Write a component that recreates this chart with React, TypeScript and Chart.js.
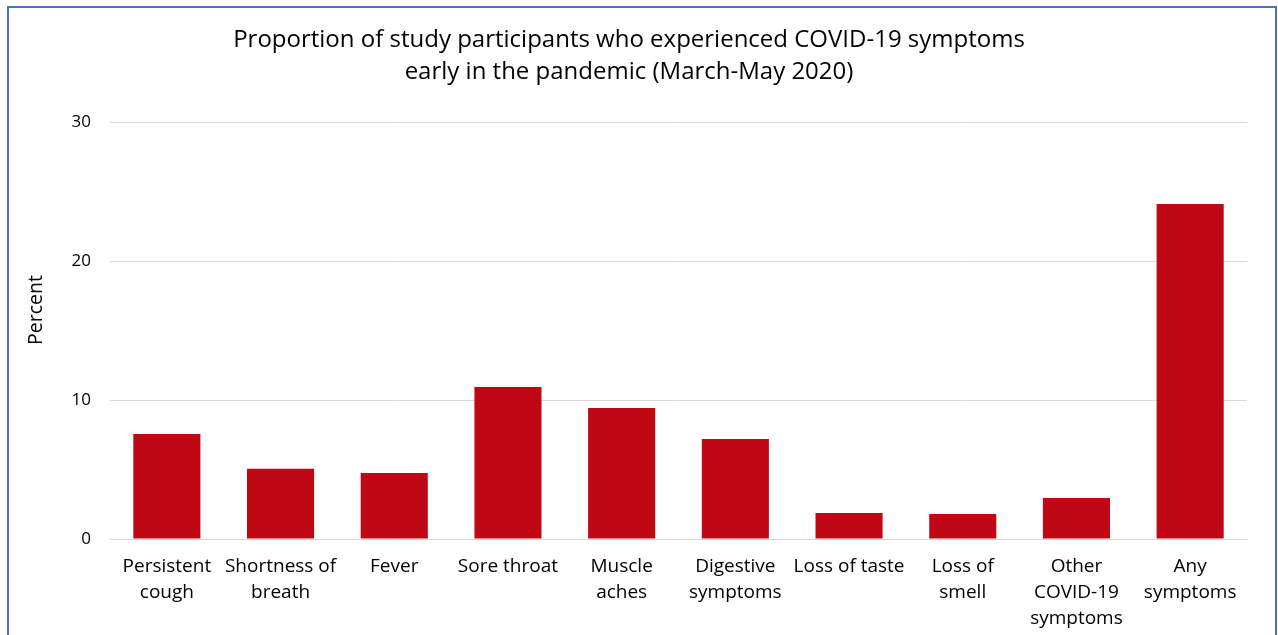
import React, { useEffect, useRef } from "react";
import { Chart, registerables } from "chart.js";

Chart.register(...registerables);

const categories: string[][] = [
  ["Persistent", "cough"],
  ["Shortness of", "breath"],
  ["Fever"],
  ["Sore throat"],
  ["Muscle", "aches"],
  ["Digestive", "symptoms"],
  ["Loss of taste"],
  ["Loss of", "smell"],
  ["Other", "COVID-19", "symptoms"],
  ["Any", "symptoms"],
];
const percentValues: number[] = [7.55, 5.05, 4.75, 10.93, 9.42, 7.2, 1.87, 1.8, 2.95, 24.1];
const yTicks: number[] = [0, 10, 20, 30];
const titleLines: string[] = [
  "Proportion of study participants who experienced COVID-19 symptoms",
  "early in the pandemic (March-May 2020)",
];
const yAxisTitle = "Percent";

const FONT = "'Open Sans', Lato, sans-serif";

const textPlugin = {
  id: "customText",
  afterDraw(chart: any) {
    const ctx = chart.ctx as CanvasRenderingContext2D;
    ctx.save();
    ctx.fillStyle = "#000";
    ctx.textAlign = "center";
    ctx.textBaseline = "middle";
    ctx.font = `24px ${FONT}`;
    const cx = chart.width / 2 - 10;
    titleLines.forEach((line, i) => ctx.fillText(line, cx, 40 + i * 32));
    ctx.translate(36, 310);
    ctx.rotate(-Math.PI / 2);
    ctx.font = `19.5px ${FONT}`;
    ctx.fillText(yAxisTitle, 0, 0);
    ctx.restore();
  },
};

export default function App() {
  const ref = useRef<HTMLCanvasElement | null>(null);

  useEffect(() => {
    document.body.style.margin = "0";
    document.body.style.overflow = "hidden";
    if (!ref.current) return;
    const chart = new Chart(ref.current, {
      type: "bar",
      data: {
        labels: categories,
        datasets: [
          {
            data: percentValues,
            backgroundColor: "#C00714",
            borderWidth: 0,
            barPercentage: 0.59,
            categoryPercentage: 1,
          },
        ],
      },
      plugins: [textPlugin],
      options: {
        animation: false,
        responsive: true,
        maintainAspectRatio: false,
        layout: { padding: { left: 0, right: 31, top: 122, bottom: 0 } },
        plugins: {
          legend: { display: false },
          tooltip: { enabled: false },
          title: { display: false },
        },
        scales: {
          x: {
            grid: { display: false, drawTicks: false },
            border: { display: false },
            ticks: {
              color: "#000",
              font: { family: FONT, size: 19, lineHeight: 1.37 },
              padding: 15,
              maxRotation: 0,
              autoSkip: false,
            },
            afterFit: (scale: any) => {
              scale.height = 96;
            },
          },
          y: {
            min: 0,
            max: 30,
            afterBuildTicks: (scale: any) => {
              scale.ticks = yTicks.map((v) => ({ value: v }));
            },
            grid: { color: "#d9d9d9", lineWidth: 1, drawTicks: false },
            border: { display: false },
            ticks: {
              color: "#000",
              font: { family: FONT, size: 17 },
              padding: 19,
            },
            afterFit: (scale: any) => {
              scale.width = 110;
            },
          },
        },
      },
    });
    return () => chart.destroy();
  }, []);

  return (
    <div style={{ position: "absolute", left: 0, top: 0, width: 1278, height: 635, overflow: "hidden", background: "#fff" }}>
      <div
        style={{
          position: "absolute",
          left: 7,
          top: 6,
          width: 1266,
          height: 700,
          borderTop: "2px solid #4472C4",
          borderLeft: "2px solid #4472C4",
          borderRight: "2px solid #4472C4",
          pointerEvents: "none",
        }}
      />
      <canvas ref={ref} style={{ position: "absolute", left: 0, top: 0 }} />
    </div>
  );
}
